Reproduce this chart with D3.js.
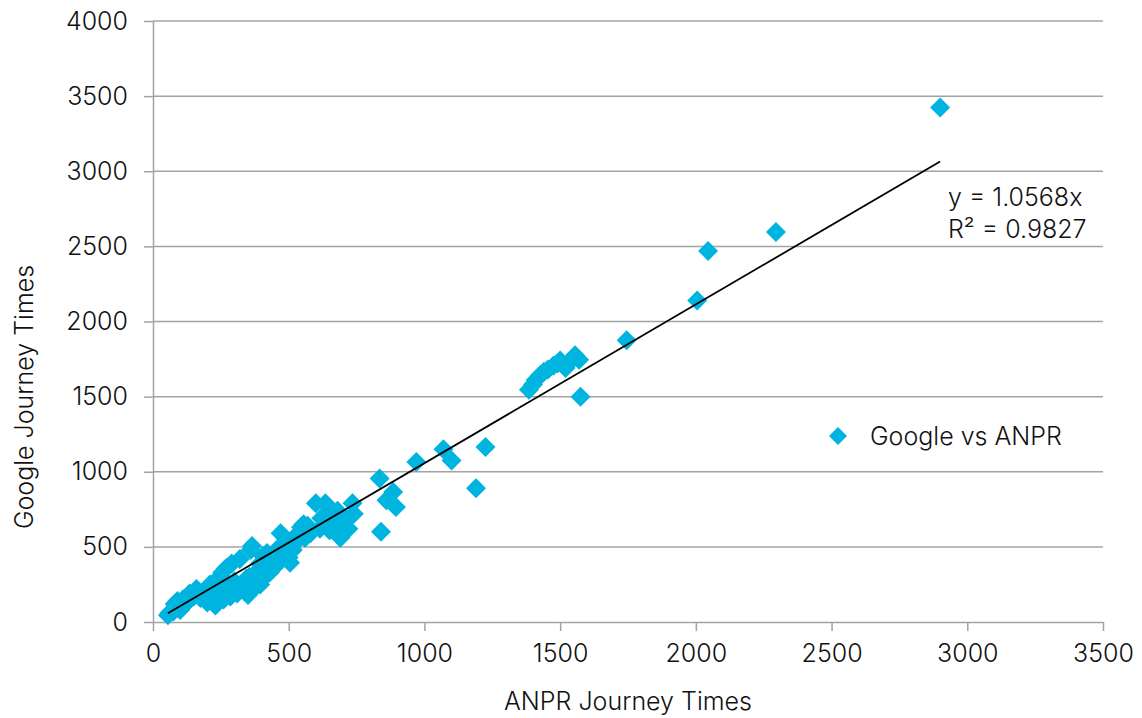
<!DOCTYPE html>
<html>
<head>
<meta charset="utf-8">
<script src="https://cdn.jsdelivr.net/npm/d3@7"></script>
<style>
  body { margin: 0; background: #fff; }
  svg text { font-family: Inter, "Liberation Sans", sans-serif; font-weight: 300; fill: #111; }
</style>
</head>
<body>
<svg id="chart" width="1142" height="718"></svg>
<script>
// ANPR journey time (x) vs Google journey time (y)
const anpr = [
  55, 60, 75, 80, 90, 100, 110, 125, 135, 150, 160, 175, 190, 200, 210, 225, 230, 245, 250, 255,
  270, 280, 290, 300, 305, 320, 340, 345, 355, 360, 365, 380, 395, 405, 420, 430, 440, 455, 470, 480,
  490, 505, 515, 530, 545, 555, 580, 600, 615, 635, 645, 660, 675, 690, 700, 715, 735, 740,
  260, 285, 310, 330, 350, 375, 395, 410, 420, 450, 465, 500, 520, 560, 570, 620, 650, 680, 720,
  835, 840, 860, 885, 895, 970, 1070, 1100, 1190, 1225,
  1385, 1400, 1410, 1425, 1440, 1455, 1475, 1490, 1500, 1520, 1530, 1555, 1570, 1575,
  1745, 2005, 2045, 2295, 2900
];
const google = [
  45, 60, 70, 120, 140, 80, 150, 130, 190, 170, 220, 160, 200, 130, 250, 180, 110, 300, 210, 330,
  360, 250, 390, 270, 230, 420, 200, 290, 300, 480, 505, 330, 250, 440, 460, 330, 420, 480, 590, 510,
  550, 395, 480, 580, 630, 650, 590, 790, 620, 790, 700, 630, 700, 560, 650, 680, 790, 720,
  150, 170, 190, 260, 180, 230, 390, 300, 400, 370, 430, 430, 520, 560, 640, 690, 610, 740, 620,
  955, 600, 810, 865, 765, 1065, 1150, 1075, 890, 1165,
  1545, 1580, 1610, 1640, 1665, 1680, 1705, 1720, 1740, 1690, 1720, 1775, 1745, 1500,
  1875, 2140, 2470, 2595, 3425
];
const xTicks = [0, 500, 1000, 1500, 2000, 2500, 3000, 3500];
const yTicks = [0, 500, 1000, 1500, 2000, 2500, 3000, 3500, 4000];
const slope = 1.0568;
const r2 = 0.9827;
const seriesName = "Google vs ANPR";

const points = anpr.map((a, i) => ({ x: a, y: google[i] }));
const svg = d3.select("#chart");
const x = d3.scaleLinear().domain([0, 3500]).range([153, 1103]);
const y = d3.scaleLinear().domain([0, 4000]).range([622, 21]);
const grid = "#a3a3a3";
const blue = "#00b4e0";
const fs = 25;
const diamond = (r) => `M0,${-r}L${r},0L0,${r}L${-r},0Z`;

// horizontal gridlines
svg.append("g")
  .selectAll("line")
  .data(yTicks.slice(1))
  .join("line")
  .attr("x1", x(0)).attr("x2", x(3500))
  .attr("y1", d => y(d)).attr("y2", d => y(d))
  .attr("stroke", grid).attr("stroke-width", 1.5);

// axes
const xAxis = svg.append("g")
  .attr("transform", `translate(0,${y(0)})`)
  .call(d3.axisBottom(x).tickValues(xTicks).tickFormat(d3.format("d"))
    .tickSize(9).tickSizeOuter(0).tickPadding(13));
const yAxis = svg.append("g")
  .attr("transform", `translate(${x(0)},0)`)
  .call(d3.axisLeft(y).tickValues(yTicks).tickFormat(d3.format("d"))
    .tickSize(9).tickSizeOuter(0).tickPadding(16));
[xAxis, yAxis].forEach(a => {
  a.select(".domain").attr("stroke", grid).attr("stroke-width", 1.5);
  a.selectAll(".tick line").attr("stroke", grid).attr("stroke-width", 1.5);
  a.selectAll(".tick text")
    .attr("font-size", fs)
    .style("font-family", "Inter, 'Liberation Sans', sans-serif")
    .style("font-weight", 300)
    .attr("fill", "#111");
});

// points
svg.append("g")
  .selectAll("path")
  .data(points)
  .join("path")
  .attr("d", diamond(10))
  .attr("transform", d => `translate(${x(d.x)},${y(d.y)})`)
  .attr("fill", blue);

// trendline through origin
const xr = d3.extent(anpr);
svg.append("line")
  .attr("x1", x(xr[0])).attr("y1", y(slope * xr[0]))
  .attr("x2", x(xr[1])).attr("y2", y(slope * xr[1]))
  .attr("stroke", "#000").attr("stroke-width", 1.8);

// equation label
svg.append("text").attr("x", 948).attr("y", 206).attr("font-size", fs)
  .text(`y = ${slope}x`);
svg.append("text").attr("x", 948).attr("y", 238).attr("font-size", fs)
  .text(`R² = ${r2}`);

// legend
svg.append("path").attr("d", diamond(9))
  .attr("transform", "translate(838,436)").attr("fill", blue);
svg.append("text").attr("x", 870).attr("y", 445).attr("font-size", fs)
  .text(seriesName);

// axis titles
svg.append("text").attr("x", 628).attr("y", 710).attr("text-anchor", "middle")
  .attr("font-size", fs).text("ANPR Journey Times");
svg.append("text").attr("transform", "translate(33,397) rotate(-90)")
  .attr("text-anchor", "middle").attr("font-size", fs).text("Google Journey Times");
</script>
</body>
</html>
